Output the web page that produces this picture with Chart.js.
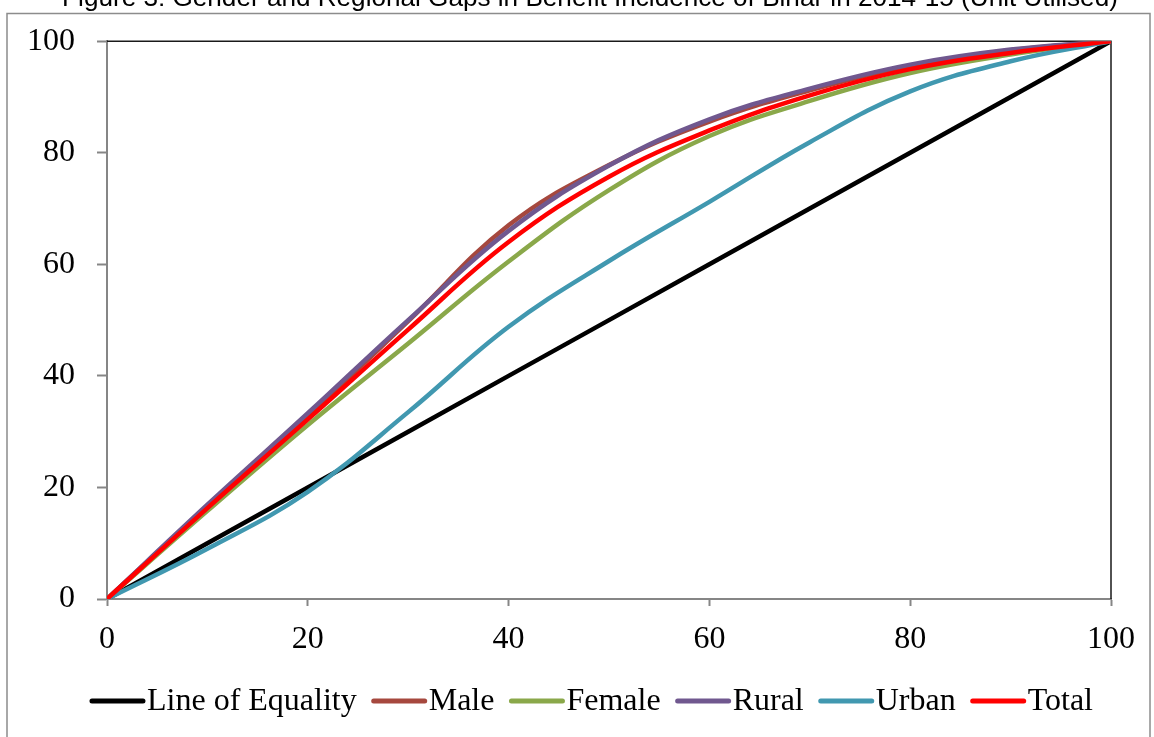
<!DOCTYPE html>
<html>
<head>
<meta charset="utf-8">
<script src="https://cdn.jsdelivr.net/npm/chart.js@4"></script>
<style>
  html, body { margin: 0; padding: 0; background: #fff; overflow: hidden; }
  #wrap { width: 1154px; height: 737px; position: relative; }
</style>
</head>
<body>
<div id="wrap"><canvas id="lorenzChart"></canvas></div>
<script>
const titleText = "Figure 3: Gender and Regional Gaps in Benefit Incidence of Bihar in 2014-15 (Unit Utilised)";

// cumulative population share (x) and cumulative benefit share (y)
const xValues = [0, 10, 20, 30, 40, 50, 60, 70, 80, 90, 100];
const equality = [0, 10, 20, 30, 40, 50, 60, 70, 80, 90, 100];
const male = [0, 16.6, 32.8, 49.8, 67, 77.8, 85.6, 91.2, 95.6, 98.4, 100];
const female = [0, 15.8, 31.2, 45.8, 60.5, 73.3, 83, 89.3, 94.3, 97.6, 100];
const rural = [0, 16.9, 33.3, 50, 66, 77.7, 86, 91.5, 95.8, 98.5, 100];
const urban = [0, 9, 19.2, 33.5, 48.8, 60.6, 71.2, 81.9, 91, 96.4, 100];
const total = [0, 16.3, 32.2, 48.3, 64, 75.7, 84, 90.3, 95, 97.9, 100];

const seriesNames = ["Line of Equality", "Male", "Female", "Rural", "Urban", "Total"];
const seriesColors = ["#000000", "#A6483E", "#8AA84A", "#70588F", "#4198B0", "#FF0000"];
const xTicks = [0, 20, 40, 60, 80, 100];
const yTicks = [0, 20, 40, 60, 80, 100];

const tickFont = { family: "Liberation Serif", size: 32 };
const axisGray = "#868686";

function toPoints(values) {
  return values.map((v, i) => ({ x: xValues[i], y: v }));
}

const allSeries = [equality, male, female, rural, urban, total];

const datasets = allSeries.map((values, i) => ({
  label: seriesNames[i],
  data: toPoints(values),
  borderColor: seriesColors[i],
  backgroundColor: seriesColors[i],
  borderWidth: 4.5,
  pointRadius: 0,
  tension: i === 0 ? 0 : 0.4,
  order: allSeries.length - i,
}));

// top + right border of plot area (Excel style box)
const plotBox = {
  id: "plotBox",
  beforeDatasetsDraw(chart) {
    const { ctx, chartArea } = chart;
    ctx.save();
    ctx.strokeStyle = "#1a1a1a";
    ctx.lineWidth = 1.5;
    ctx.beginPath();
    ctx.moveTo(chartArea.left, chartArea.top);
    ctx.lineTo(chartArea.right, chartArea.top);
    ctx.lineTo(chartArea.right, chartArea.bottom);
    ctx.stroke();
    ctx.restore();
  },
};

// outer frame, clipped title and legend
const frameAndLegend = {
  id: "frameAndLegend",
  afterDraw(chart) {
    const ctx = chart.ctx;
    ctx.save();

    ctx.strokeStyle = "#8c8c8c";
    ctx.lineWidth = 1.5;
    ctx.strokeRect(7, 13.5, 1143, 740);

    ctx.fillStyle = "#000";
    ctx.font = "22px 'Liberation Sans'";
    let w = ctx.measureText(titleText).width;
    let size = 22 * 1056 / w;
    ctx.font = size + "px 'Liberation Sans'";
    ctx.textAlign = "center";
    ctx.textBaseline = "alphabetic";
    ctx.fillText(titleText, 590, 6);

    // legend
    ctx.font = "32px 'Liberation Serif'";
    const lineLen = 55, textGap = 2, itemGap = 15;
    const widths = chart.data.datasets.map(d => ctx.measureText(d.label).width);
    let totalW = 0;
    widths.forEach((tw, i) => {
      totalW += lineLen + textGap + tw + (i < widths.length - 1 ? itemGap : 0);
    });
    let x = 591.5 - totalW / 2;
    const y = 701;
    ctx.textAlign = "left";
    ctx.textBaseline = "middle";
    chart.data.datasets.forEach((d, i) => {
      ctx.strokeStyle = d.borderColor;
      ctx.lineWidth = 5;
      ctx.lineCap = "round";
      ctx.beginPath();
      ctx.moveTo(x + 2, y);
      ctx.lineTo(x + lineLen - 2, y);
      ctx.stroke();
      ctx.fillStyle = "#000";
      ctx.fillText(d.label, x + lineLen + textGap, y + 1);
      x += lineLen + textGap + widths[i] + itemGap;
    });
    ctx.restore();
  },
};

new Chart(document.getElementById("lorenzChart"), {
  type: "line",
  data: { datasets: datasets },
  options: {
    responsive: true,
    maintainAspectRatio: false,
    animation: false,
    layout: { padding: { top: 41, right: 43, left: 0, bottom: 0 } },
    plugins: {
      legend: { display: false },
      title: { display: false },
      tooltip: { enabled: false },
    },
    scales: {
      x: {
        type: "linear",
        min: 0,
        max: 100,
        afterBuildTicks: (scale) => {
          scale.ticks = xTicks.map(v => ({ value: v }));
        },
        afterFit: (scale) => {
          scale.height = 138;
        },
        ticks: { font: tickFont, color: "#000", padding: 14, maxRotation: 0 },
        grid: { drawOnChartArea: false, tickLength: 7, tickColor: axisGray, tickWidth: 2 },
        border: { color: axisGray, width: 2 },
      },
      y: {
        min: 0,
        max: 100,
        afterBuildTicks: (scale) => {
          scale.ticks = yTicks.map(v => ({ value: v }));
        },
        afterFit: (scale) => {
          scale.width = 107;
        },
        ticks: { font: tickFont, color: "#000", padding: 22 },
        grid: { drawOnChartArea: false, tickLength: 10, tickColor: axisGray, tickWidth: 2 },
        border: { color: axisGray, width: 2 },
      },
    },
  },
  plugins: [plotBox, frameAndLegend],
});
</script>
</body>
</html>
